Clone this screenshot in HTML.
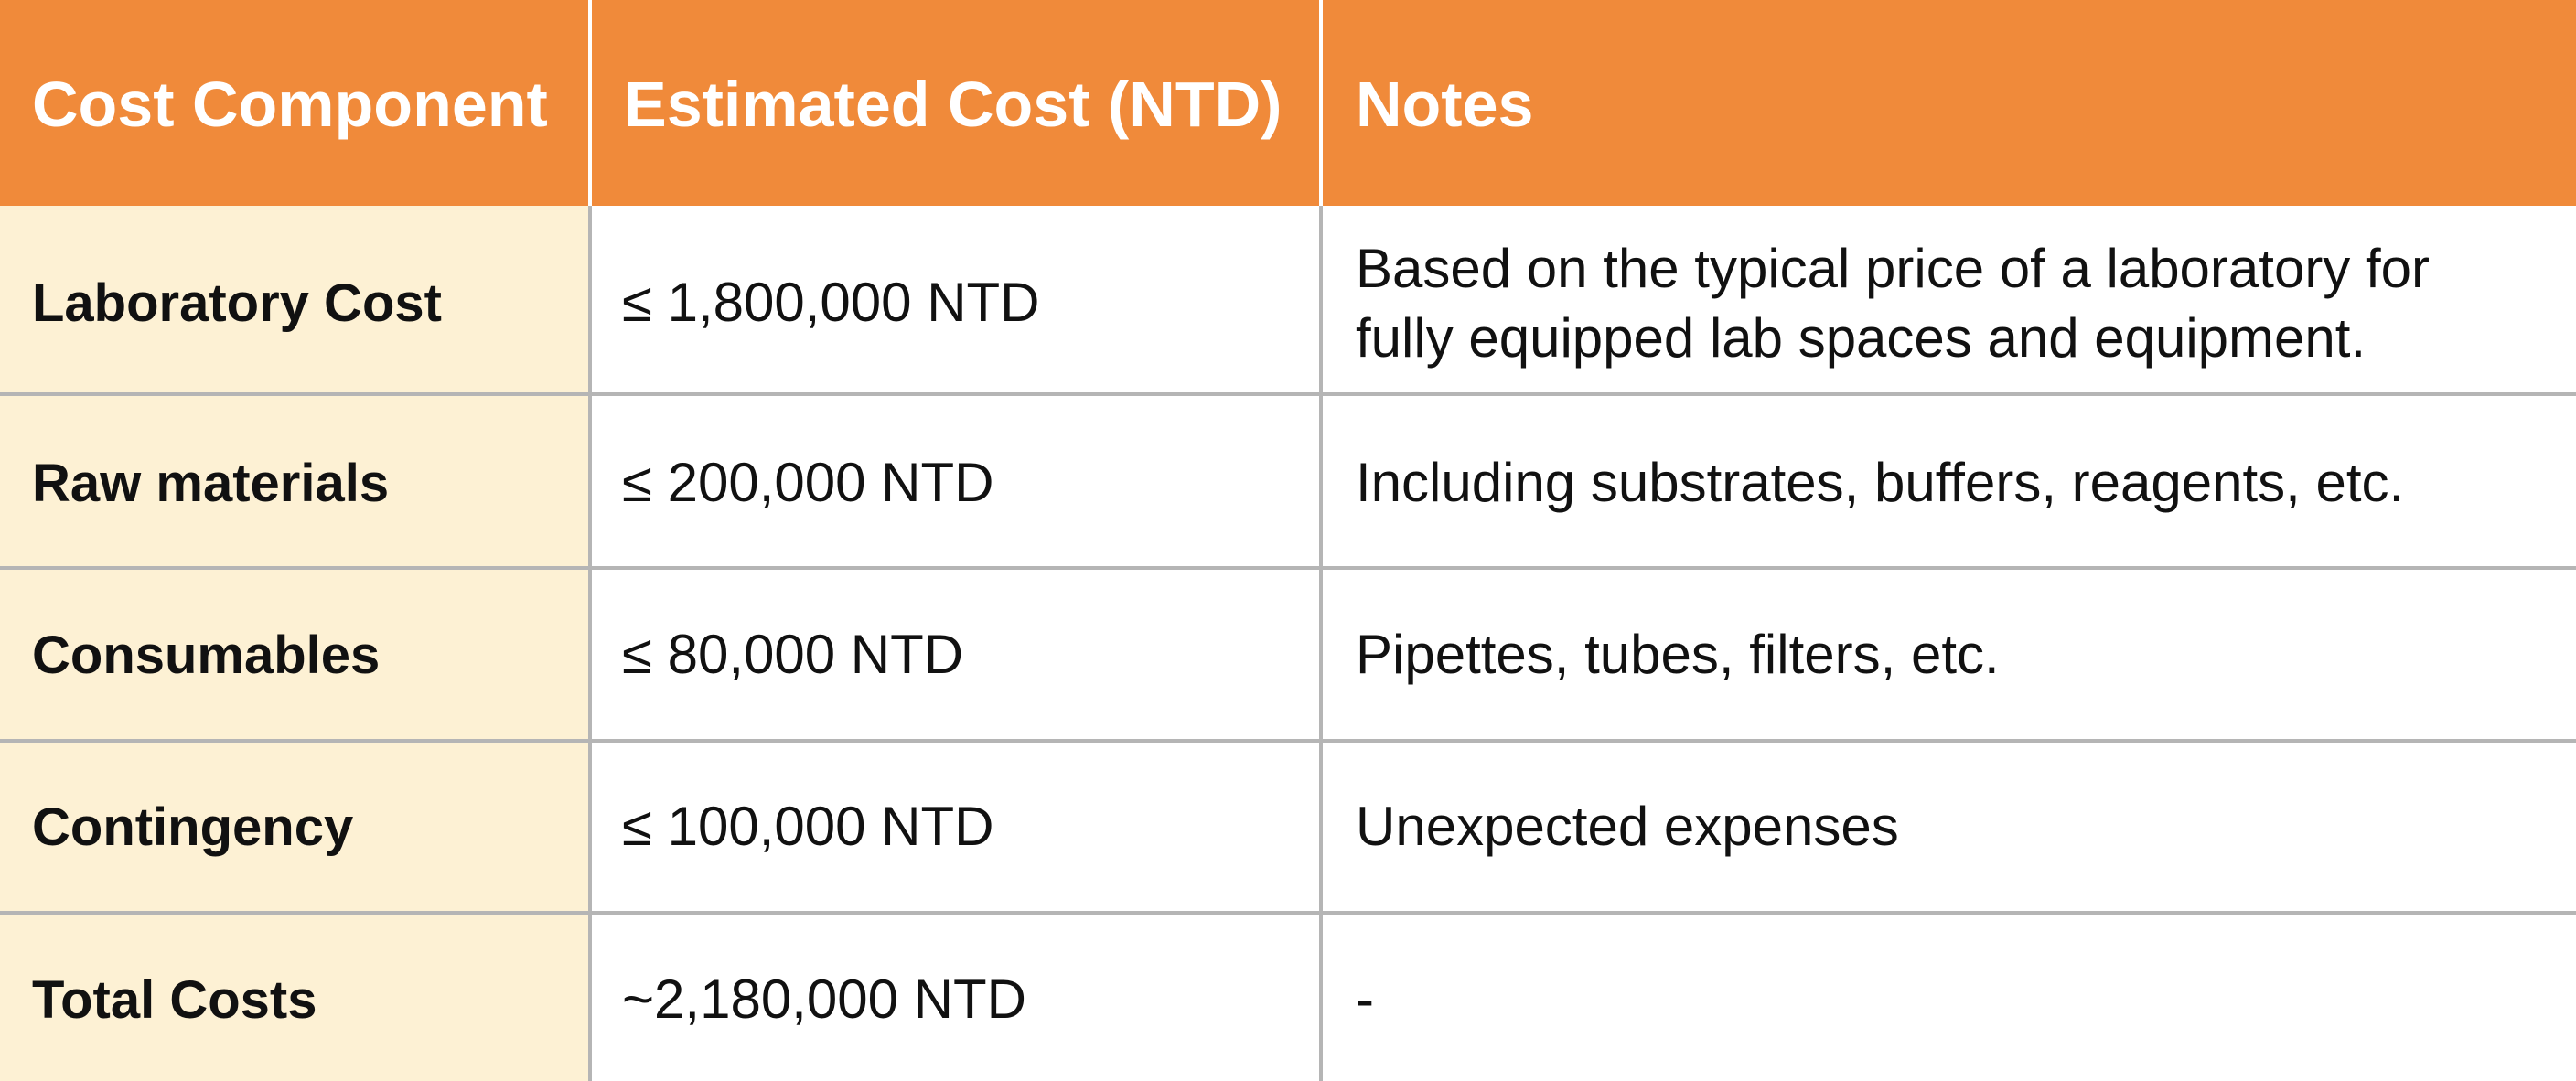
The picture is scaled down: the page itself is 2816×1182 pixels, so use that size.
<!DOCTYPE html>
<html><head><meta charset="utf-8"><style>
body{margin:0;width:2816px;height:1182px;overflow:hidden;background:#fff;font-family:"Liberation Sans",sans-serif;position:relative}
div{position:absolute;box-sizing:border-box}
.h{background:#f08a3a;top:0;height:225px}
.ht{color:#fff;font-weight:bold;font-size:70px;top:74px;white-space:nowrap}
.c1{left:0;width:643px;background:#fdf1d4}
.t{font-size:60px;white-space:nowrap;color:#111}
.b{font-weight:bold;font-size:58px}
.hl{left:0;width:2816px;height:4px;background:#b5b5b5}
.vl{width:4px;background:#b5b5b5;top:225px;height:957px}
.vh{width:4px;background:#fff;top:0;height:225px}
</style></head><body>
<div class="h" style="left:0;width:2816px"></div>
<div class="vh" style="left:643px"></div>
<div class="vh" style="left:1442px"></div>
<div class="ht" style="left:35px">Cost Component</div>
<div class="ht" style="left:682px">Estimated Cost (NTD)</div>
<div class="ht" style="left:1482px">Notes</div>

<div class="c1" style="top:225px;height:957px"></div>
<div class="vl" style="left:643px"></div>
<div class="vl" style="left:1442px"></div>
<div class="hl" style="top:429px"></div>
<div class="hl" style="top:619px"></div>
<div class="hl" style="top:808px"></div>
<div class="hl" style="top:996px"></div>

<div class="t b" style="left:35px;top:298px">Laboratory Cost</div>
<div class="t" style="left:680px;top:296px">≤ 1,800,000 NTD</div>
<div class="t" style="left:1482px;top:256px;line-height:76px">Based on the typical price of a laboratory for<br>fully equipped lab spaces and equipment.</div>

<div class="t b" style="left:35px;top:495px">Raw materials</div>
<div class="t" style="left:680px;top:493px">≤ 200,000 NTD</div>
<div class="t" style="left:1482px;top:493px">Including substrates, buffers, reagents, etc.</div>

<div class="t b" style="left:35px;top:683px">Consumables</div>
<div class="t" style="left:680px;top:681px">≤ 80,000 NTD</div>
<div class="t" style="left:1482px;top:681px">Pipettes, tubes, filters, etc.</div>

<div class="t b" style="left:35px;top:871px">Contingency</div>
<div class="t" style="left:680px;top:869px">≤ 100,000 NTD</div>
<div class="t" style="left:1482px;top:869px">Unexpected expenses</div>

<div class="t b" style="left:35px;top:1060px">Total Costs</div>
<div class="t" style="left:680px;top:1058px">~2,180,000 NTD</div>
<div class="t" style="left:1482px;top:1058px">-</div>
</body></html>
